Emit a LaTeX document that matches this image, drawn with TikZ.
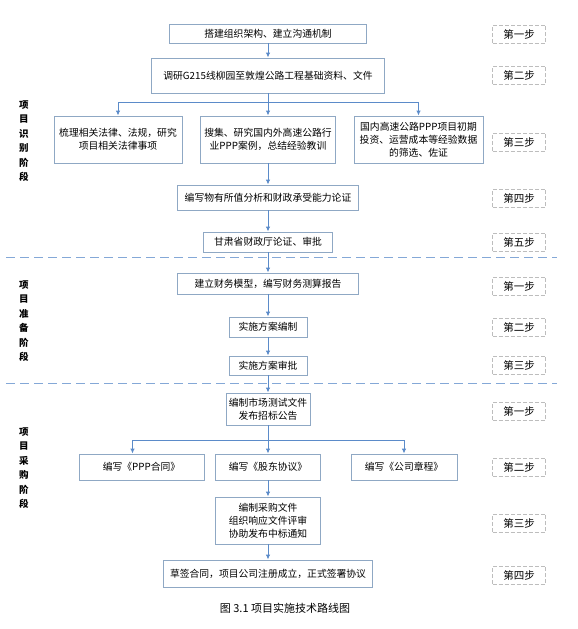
\documentclass[tikz,border=0pt]{standalone}
\usepackage{xcolor}
\usepackage{fontspec}
\setmainfont{Noto Sans CJK SC}
\usepackage{tikz}
\usetikzlibrary{arrows.meta}
\definecolor{linkblue}{HTML}{5B8BC9}
\definecolor{boxline}{HTML}{8FA8C4}
\definecolor{stepgray}{HTML}{BDBDBD}
\begin{document}
\begin{tikzpicture}[x=1pt,y=-1pt,
        box/.style = {draw=boxline, line width=0.9pt, fill=white, align=center, inner sep=0pt,
                      font=\fontsize{9.8}{13}\selectfont},
        stepbox/.style = {draw=stepgray, dash pattern=on 4pt off 2pt, line width=0.9pt,
                          minimum width=53pt, minimum height=18pt, inner sep=0pt,
                          font=\fontsize{10.5}{12}\selectfont},
        phase/.style = {align=center, font=\fontsize{9.5}{14.4}\selectfont\bfseries},
        link/.style = {draw=linkblue, line width=0.9pt},
        arr/.style = {link, -{Latex[length=5pt,width=4.5pt]}},
        sep/.style = {draw=linkblue!75, line width=1pt, dash pattern=on 9pt off 5pt}
    ]
        \useasboundingbox (0,0) rectangle (578,629);
        \draw[sep] (6,257) -- (557,257);
        \draw[sep] (6,383) -- (557,383);

        \node[box, minimum width=197pt, minimum height=19pt] (b1) at (268,33.5) {搭建组织架构、建立沟通机制};
        \node[box, minimum width=233pt, minimum height=35pt] (b2) at (268,75.5) {调研G215线柳园至敦煌公路工程基础资料、文件};
        \node[box, minimum width=128pt, minimum height=47pt] (b3a) at (118,139.5) {梳理相关法律、法规，研究\\项目相关法律事项};
        \node[box, minimum width=135pt, minimum height=47pt] (b3b) at (268,139.5) {搜集、研究国内外高速公路行\\业PPP案例，总结经验教训};
        \node[box, minimum width=129pt, minimum height=47pt] (b3c) at (418.5,139.5) {国内高速公路PPP项目初期\\投资、运营成本等经验数据\\的筛选、佐证};
        \node[box, minimum width=181pt, minimum height=25pt] (b4) at (268,197.5) {编写物有所值分析和财政承受能力论证};
        \node[box, minimum width=129pt, minimum height=20pt] (b5) at (268,242) {甘肃省财政厅论证、审批};

        \node[box, minimum width=181pt, minimum height=21pt] (b6) at (268,283.5) {建立财务模型，编写财务测算报告};
        \node[box, minimum width=78pt, minimum height=20pt] (b7) at (268,327) {实施方案编制};
        \node[box, minimum width=78pt, minimum height=19pt] (b8) at (268,365.5) {实施方案审批};

        \node[box, minimum width=84pt, minimum height=32pt] (b9) at (268,409) {编制市场测试文件\\发布招标公告};
        \node[box, minimum width=125pt, minimum height=26pt] (b10a) at (141.5,467) {编写《PPP合同》};
        \node[box, minimum width=105pt, minimum height=26pt] (b10b) at (268,467) {编写《股东协议》};
        \node[box, minimum width=106pt, minimum height=26pt] (b10c) at (404,467) {编写《公司章程》};
        \node[box, minimum width=105pt, minimum height=47pt] (b11) at (268,520.5) {编制采购文件\\组织响应文件评审\\协助发布中标通知};
        \node[box, minimum width=209pt, minimum height=27pt] (b12) at (268,573.5) {草签合同，项目公司注册成立，正式签署协议};

        \coordinate (br1) at (268,102);
        \coordinate (br2) at (268,440);
        \draw[arr] (b1) -- (b2);
        \draw[link] (b2) -- (br1);
        \draw[arr] (br1) -| (b3a);
        \draw[arr] (br1) -- (b3b);
        \draw[arr] (br1) -| (b3c);
        \draw[arr] (b3b) -- (b4);
        \draw[arr] (b4) -- (b5);
        \draw[arr] (b5) -- (b6);
        \draw[arr] (b6) -- (b7);
        \draw[arr] (b7) -- (b8);
        \draw[arr] (b8) -- (b9);
        \draw[link] (b9) -- (br2);
        \draw[arr] (br2) -| ([xshift=-9pt]b10a.north);
        \draw[arr] (br2) -- (b10b);
        \draw[arr] (br2) -| (b10c);
        \draw[arr] (b10b) -- (b11);
        \draw[arr] (b11) -- (b12);

        \node[stepbox] (s11) at (519,34) {第一步};
        \node[stepbox] (s12) at (519,75) {第二步};
        \node[stepbox] (s13) at (519,142) {第三步};
        \node[stepbox] (s14) at (519,198) {第四步};
        \node[stepbox] (s15) at (519,242) {第五步};
        \node[stepbox] (s21) at (519,286) {第一步};
        \node[stepbox] (s22) at (519,327) {第二步};
        \node[stepbox] (s23) at (519,365) {第三步};
        \node[stepbox] (s31) at (519,411) {第一步};
        \node[stepbox] (s32) at (519,467) {第二步};
        \node[stepbox] (s33) at (519,523) {第三步};
        \node[stepbox] (s34) at (519,575) {第四步};

        \node[phase] (p1) at (24,141) {项\\目\\识\\别\\阶\\段};
        \node[phase] (p2) at (24,321) {项\\目\\准\\备\\阶\\段};
        \node[phase] (p3) at (24,468) {项\\目\\采\\购\\阶\\段};

        \node[font=\fontsize{11}{13}\selectfont] (cap) at (285,608) {图 3.1\ 项目实施技术路线图};
    \end{tikzpicture}
\end{document}
